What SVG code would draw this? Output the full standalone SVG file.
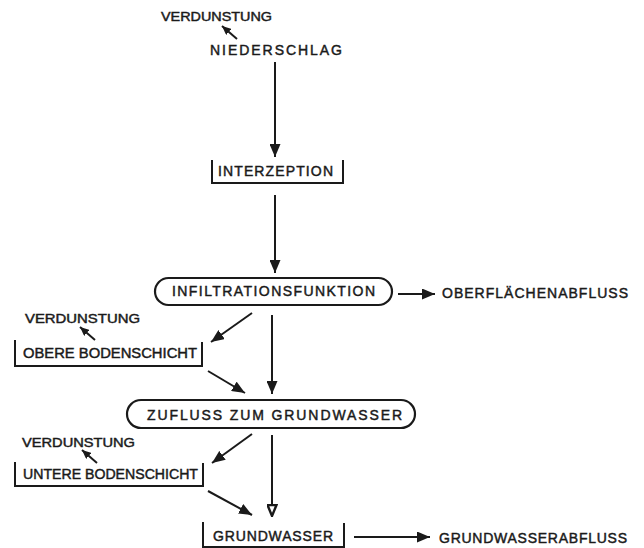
<svg xmlns="http://www.w3.org/2000/svg" width="644" height="548" viewBox="0 0 644 548">
<defs>
<style>
text{font-family:"Liberation Sans",Arial,sans-serif;fill:#1a1a1a;stroke:#1a1a1a;stroke-width:0.45;}
.t{font-size:14px;}
.s{font-size:13px;}
.ln{stroke:#1a1a1a;stroke-width:2;fill:none;}
.bx{stroke:#1a1a1a;stroke-width:2;fill:none;}
.rb{stroke:#1a1a1a;stroke-width:2.2;fill:#fff;}
</style>
<marker id="ah" viewBox="0 0 13 11" refX="13" refY="5.5" markerWidth="13" markerHeight="11" markerUnits="userSpaceOnUse" orient="auto">
<path d="M0,0 L13,5.5 L0,11 Z" fill="#1a1a1a"/>
</marker>
<marker id="sa" viewBox="0 0 9 8" refX="9" refY="4" markerWidth="9" markerHeight="8" markerUnits="userSpaceOnUse" orient="auto">
<path d="M0,0 L9,4 L0,8 Z" fill="#1a1a1a"/>
</marker>
<marker id="oa" viewBox="0 0 13 11" refX="12" refY="5.5" markerWidth="13" markerHeight="11" markerUnits="userSpaceOnUse" orient="auto">
<path d="M1,1 L12,5.5 L1,10 Z" fill="#fff" stroke="#1a1a1a" stroke-width="2.4" stroke-linejoin="miter"/>
</marker>
</defs>

<g id="verdunstung-top">
<text class="s" x="161" y="21" textLength="111" lengthAdjust="spacingAndGlyphs">VERDUNSTUNG</text>
</g>
<g id="niederschlag">
<text class="t" x="210" y="55" textLength="132" lengthAdjust="spacing">NIEDERSCHLAG</text>
</g>
<g id="interzeption">
<path class="bx" d="M212,160 V183 H343 V160"/>
<text class="t" x="218" y="176" textLength="115" lengthAdjust="spacing">INTERZEPTION</text>
</g>
<g id="infiltrationsfunktion">
<rect class="rb" x="155" y="278" width="237" height="27" rx="13.5" ry="13.5"/>
<text class="t" x="172" y="296" textLength="203" lengthAdjust="spacing">INFILTRATIONSFUNKTION</text>
</g>
<g id="oberflaechenabfluss">
<text class="t" x="442" y="298" textLength="186" lengthAdjust="spacing">OBERFLÄCHENABFLUSS</text>
</g>
<g id="verdunstung-obere">
<text class="s" x="25" y="323" textLength="115" lengthAdjust="spacingAndGlyphs">VERDUNSTUNG</text>
</g>
<g id="obere-bodenschicht">
<path class="bx" d="M15,340 V366 H202 V342"/>
<text class="t" x="23" y="358" textLength="174" lengthAdjust="spacingAndGlyphs">OBERE BODENSCHICHT</text>
</g>
<g id="zufluss">
<rect class="rb" x="127" y="400" width="288" height="28" rx="14" ry="14"/>
<text class="t" x="147" y="420" textLength="255" lengthAdjust="spacing">ZUFLUSS ZUM GRUNDWASSER</text>
</g>
<g id="verdunstung-untere">
<text class="s" x="22" y="447" textLength="113" lengthAdjust="spacingAndGlyphs">VERDUNSTUNG</text>
</g>
<g id="untere-bodenschicht">
<path class="bx" d="M15,462 V486 H203 V463"/>
<text class="t" x="23" y="479" textLength="175" lengthAdjust="spacingAndGlyphs">UNTERE BODENSCHICHT</text>
</g>
<g id="grundwasser">
<path class="bx" d="M203,522 V548 M344,523 V548"/>
<path class="bx" d="M203,547 H344" stroke-width="1"/>
<text class="t" x="213" y="541" textLength="120" lengthAdjust="spacing">GRUNDWASSER</text>
</g>
<g id="grundwasserabfluss">
<text class="t" x="439" y="543" textLength="188" lengthAdjust="spacing">GRUNDWASSERABFLUSS</text>
</g>

<g id="connectors">
<line class="ln" x1="237" y1="39" x2="222" y2="26" marker-end="url(#sa)"/>
<line class="ln" x1="275" y1="62" x2="275" y2="157" marker-end="url(#ah)"/>
<line class="ln" x1="275" y1="195" x2="275" y2="273" marker-end="url(#ah)"/>
<line class="ln" x1="398" y1="294" x2="435" y2="294" marker-end="url(#ah)"/>
<line class="ln" x1="95" y1="340" x2="80" y2="327" marker-end="url(#sa)"/>
<line class="ln" x1="252" y1="313" x2="211" y2="342" marker-end="url(#ah)"/>
<line class="ln" x1="272" y1="315" x2="272" y2="394" marker-end="url(#ah)"/>
<line class="ln" x1="208" y1="371" x2="245" y2="393" marker-end="url(#ah)"/>
<line class="ln" x1="97" y1="463" x2="82" y2="450" marker-end="url(#sa)"/>
<line class="ln" x1="252" y1="434" x2="212" y2="463" marker-end="url(#ah)"/>
<line class="ln" x1="272" y1="435" x2="272" y2="516" marker-end="url(#oa)"/>
<line class="ln" x1="208" y1="491" x2="252" y2="515" marker-end="url(#ah)"/>
<line class="ln" x1="354" y1="537" x2="430" y2="537" marker-end="url(#ah)"/>
</g>
</svg>
